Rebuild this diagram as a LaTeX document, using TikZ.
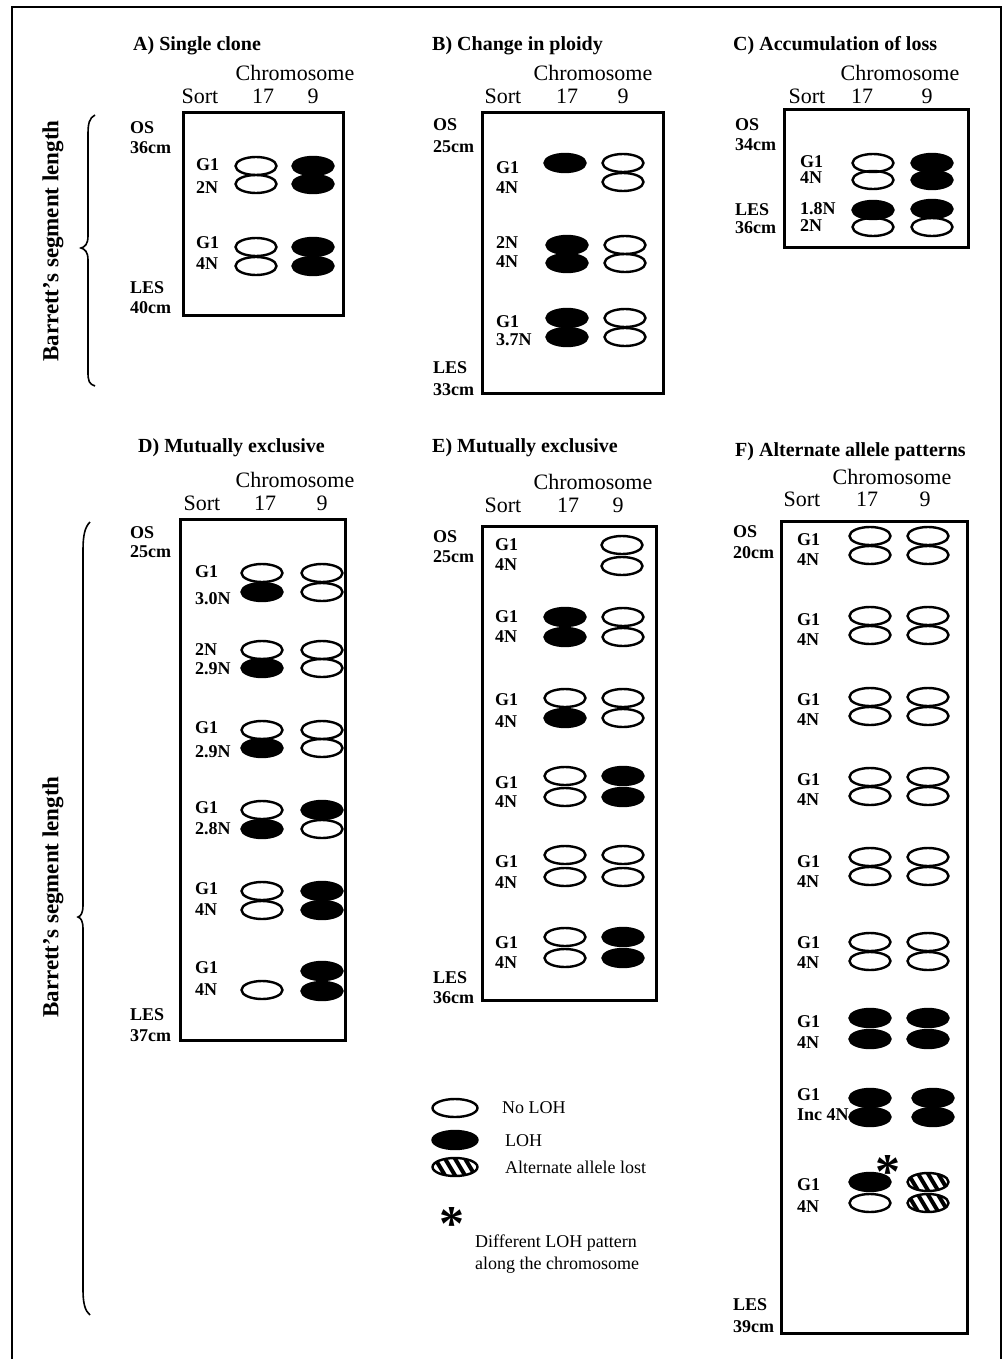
\documentclass[tikz,border=0pt]{standalone}
\usepackage{fontspec}
\setmainfont{Liberation Serif}
\usetikzlibrary{shapes.geometric}
\begin{document}
\begin{tikzpicture}[x=1pt,y=-1pt,
  allele/.style={ellipse, minimum width=41pt, minimum height=18pt, inner sep=0pt, line width=2.4pt},
  nol/.style={allele, draw},
  loh/.style={allele, draw, fill=black},
  alt/.style={allele, draw, fill=white, path picture={
      \foreach \s in {-15,-5,5,15}
        \draw[line width=4pt] ([xshift=\s pt]path picture bounding box.center) ++(-6pt,10pt) -- ++(12pt,-20pt);}},
  ttl/.style={font=\bfseries\fontsize{20}{22}\selectfont, anchor=west, inner sep=0pt},
  hdr/.style={font=\fontsize{22}{24}\selectfont, inner sep=0pt},
  lbl/.style={font=\bfseries\fontsize{18}{20}\selectfont, anchor=west, inner sep=0pt},
  leg/.style={font=\fontsize{18}{20}\selectfont, anchor=west, inner sep=0pt},
  bracelbl/.style={font=\bfseries\fontsize{23}{25}\selectfont, rotate=90, inner sep=0pt},
  panel/.style={draw, line width=3pt},
  bracepath/.style={line width=1.6pt},
  star/.style={font=\bfseries\fontsize{50}{50}\selectfont, inner sep=0pt, anchor=base}
]
\useasboundingbox (0,0) rectangle (1006,1359);
\draw[line width=2.6pt] (12,1365) -- (12,7) -- (1001,7) -- (1001,1365);

% ---------- braces ----------
\draw[bracepath] (95,115) .. controls (89,118) and (88,124) .. (88,135) -- (88,236)
  .. controls (88,244) and (85,247) .. (81,248) .. controls (85,249) and (88,252) .. (88,260)
  -- (88,372) .. controls (88,381) and (89,384) .. (95,386);
\node[bracelbl] (Abr) at (53,241) {Barrett’s segment length};
\draw[bracepath] (90,522) .. controls (85,527) and (83,535) .. (83,550) -- (83,905)
  .. controls (83,913) and (81,916) .. (78,917) .. controls (81,918) and (83,921) .. (83,929)
  -- (83,1290) .. controls (83,1303) and (85,1311) .. (90,1315);
\node[bracelbl] (Dbr) at (53,897) {Barrett’s segment length};

% ---------- Panel A ----------
\node[ttl] (At) at (133,46) {A) Single clone};
\node[hdr] (Ac) at (295,73) {Chromosome};
\node[hdr] (As) at (200,96) {Sort};
\node[hdr] (A17) at (263,96) {17};
\node[hdr] (A9) at (313,96) {9};
\draw[panel] (183,113) rectangle (343,315);
\node[lbl] (Aos) at (130,128) {OS};
\node[lbl] (Aosc) at (130,148) {36cm};
\node[lbl] (Ales) at (130,288) {LES};
\node[lbl] (Alesc) at (130,308) {40cm};
\node[lbl] (Al1) at (196,165) {G1};
\node[lbl] (Al2) at (196,188) {2N};
\node[lbl] (Al3) at (196,243) {G1};
\node[lbl] (Al4) at (196,264) {4N};
\node[nol] (A1a) at (256,166) {}; \node[nol] (A1b) at (256,184) {};
\node[loh] (A1c) at (313,166) {}; \node[loh] (A1d) at (313,184) {};
\node[nol] (A2a) at (256,247) {}; \node[nol] (A2b) at (256,266) {};
\node[loh] (A2c) at (313,247) {}; \node[loh] (A2d) at (313,266) {};

% ---------- Panel B ----------
\node[ttl] (Bt) at (432,46) {B) Change in ploidy};
\node[hdr] (Bc) at (593,73) {Chromosome};
\node[hdr] (Bs) at (503,96) {Sort};
\node[hdr] (B17) at (567,96) {17};
\node[hdr] (B9) at (623,96) {9};
\draw[panel] (482,113) rectangle (663,393);
\node[lbl] (Bos) at (433,125) {OS};
\node[lbl] (Bosc) at (433,147) {25cm};
\node[lbl] (Bles) at (433,368) {LES};
\node[lbl] (Blesc) at (433,390) {33cm};
\node[lbl] (Bl1) at (496,168) {G1};
\node[lbl] (Bl2) at (496,188) {4N};
\node[lbl] (Bl3) at (496,243) {2N};
\node[lbl] (Bl4) at (496,262) {4N};
\node[lbl] (Bl5) at (496,322) {G1};
\node[lbl] (Bl6) at (496,340) {3.7N};
\node[loh] (B1a) at (565,163) {};
\node[nol] (B1c) at (623,163) {}; \node[nol] (B1d) at (623,182) {};
\node[loh] (B2a) at (567,245) {}; \node[loh] (B2b) at (567,263) {};
\node[nol] (B2c) at (625,245) {}; \node[nol] (B2d) at (625,263) {};
\node[loh] (B3a) at (567,318) {}; \node[loh] (B3b) at (567,337) {};
\node[nol] (B3c) at (625,318) {}; \node[nol] (B3d) at (625,337) {};

% ---------- Panel C ----------
\node[ttl] (Ct) at (733,46) {C) Accumulation of loss};
\node[hdr] (Cc) at (900,73) {Chromosome};
\node[hdr] (Cs) at (807,96) {Sort};
\node[hdr] (C17) at (862,96) {17};
\node[hdr] (C9) at (927,96) {9};
\draw[panel] (784,110) rectangle (968,247);
\node[lbl] (Cos) at (735,125) {OS};
\node[lbl] (Cosc) at (735,145) {34cm};
\node[lbl] (Cles) at (735,210) {LES};
\node[lbl] (Clesc) at (735,228) {36cm};
\node[lbl] (Cl1) at (800,162) {G1};
\node[lbl] (Cl2) at (800,178) {4N};
\node[lbl] (Cl3) at (800,209) {1.8N};
\node[lbl] (Cl4) at (800,226) {2N};
\node[nol] (C1a) at (873,163) {}; \node[nol] (C1b) at (873,180) {};
\node[loh] (C1c) at (932,163) {}; \node[loh] (C1d) at (932,180) {};
\node[loh] (C2a) at (873,210) {}; \node[nol] (C2b) at (873,227) {};
\node[loh] (C2c) at (932,209) {}; \node[nol] (C2d) at (932,227) {};

% ---------- Panel D ----------
\node[ttl] (Dt) at (138,448) {D) Mutually exclusive};
\node[hdr] (Dc) at (295,480) {Chromosome};
\node[hdr] (Ds) at (202,503) {Sort};
\node[hdr] (D17) at (265,503) {17};
\node[hdr] (D9) at (322,503) {9};
\draw[panel] (180,519) rectangle (345,1040);
\node[lbl] (Dos) at (130,533) {OS};
\node[lbl] (Dosc) at (130,552) {25cm};
\node[lbl] (Dles) at (130,1015) {LES};
\node[lbl] (Dlesc) at (130,1036) {37cm};
\node[lbl] (Dl1) at (195,572) {G1};   \node[lbl] (Dl2) at (195,599) {3.0N};
\node[lbl] (Dl3) at (195,650) {2N};   \node[lbl] (Dl4) at (195,669) {2.9N};
\node[lbl] (Dl5) at (195,728) {G1};   \node[lbl] (Dl6) at (195,752) {2.9N};
\node[lbl] (Dl7) at (195,808) {G1};   \node[lbl] (Dl8) at (195,829) {2.8N};
\node[lbl] (Dl9) at (195,889) {G1};   \node[lbl] (Dl10) at (195,910) {4N};
\node[lbl] (Dl11) at (195,968) {G1};  \node[lbl] (Dl12) at (195,990) {4N};
\node[nol] (D1a) at (262,573) {}; \node[loh] (D1b) at (262,592) {};
\node[nol] (D1c) at (322,573) {}; \node[nol] (D1d) at (322,592) {};
\node[nol] (D2a) at (262,650) {}; \node[loh] (D2b) at (262,668) {};
\node[nol] (D2c) at (322,650) {}; \node[nol] (D2d) at (322,668) {};
\node[nol] (D3a) at (262,730) {}; \node[loh] (D3b) at (262,748) {};
\node[nol] (D3c) at (322,730) {}; \node[nol] (D3d) at (322,748) {};
\node[nol] (D4a) at (262,810) {}; \node[loh] (D4b) at (262,829) {};
\node[loh] (D4c) at (322,810) {}; \node[nol] (D4d) at (322,829) {};
\node[nol] (D5a) at (262,891) {}; \node[nol] (D5b) at (262,910) {};
\node[loh] (D5c) at (322,891) {}; \node[loh] (D5d) at (322,910) {};
\node[nol] (D6b) at (262,990) {};
\node[loh] (D6c) at (322,971) {}; \node[loh] (D6d) at (322,991) {};

% ---------- Panel E ----------
\node[ttl] (Et) at (432,448) {E) Mutually exclusive};
\node[hdr] (Ec) at (593,482) {Chromosome};
\node[hdr] (Es) at (503,505) {Sort};
\node[hdr] (E17) at (568,505) {17};
\node[hdr] (E9) at (618,505) {9};
\draw[panel] (482,526) rectangle (656,1000);
\node[lbl] (Eos) at (433,537) {OS};
\node[lbl] (Eosc) at (433,557) {25cm};
\node[lbl] (Eles) at (433,978) {LES};
\node[lbl] (Elesc) at (433,998) {36cm};
\node[lbl] (El1) at (495,545) {G1};   \node[lbl] (El2) at (495,565) {4N};
\node[lbl] (El3) at (495,617) {G1};   \node[lbl] (El4) at (495,637) {4N};
\node[lbl] (El5) at (495,700) {G1};   \node[lbl] (El6) at (495,722) {4N};
\node[lbl] (El7) at (495,783) {G1};   \node[lbl] (El8) at (495,802) {4N};
\node[lbl] (El9) at (495,862) {G1};   \node[lbl] (El10) at (495,883) {4N};
\node[lbl] (El11) at (495,943) {G1};  \node[lbl] (El12) at (495,963) {4N};
\node[nol] (E1c) at (622,545) {}; \node[nol] (E1d) at (622,566) {};
\node[loh] (E2a) at (565,617) {}; \node[loh] (E2b) at (565,637) {};
\node[nol] (E2c) at (623,617) {}; \node[nol] (E2d) at (623,637) {};
\node[nol] (E3a) at (565,698) {}; \node[loh] (E3b) at (565,718) {};
\node[nol] (E3c) at (623,698) {}; \node[nol] (E3d) at (623,718) {};
\node[nol] (E4a) at (565,776) {}; \node[nol] (E4b) at (565,797) {};
\node[loh] (E4c) at (623,776) {}; \node[loh] (E4d) at (623,797) {};
\node[nol] (E5a) at (565,855) {}; \node[nol] (E5b) at (565,877) {};
\node[nol] (E5c) at (623,855) {}; \node[nol] (E5d) at (623,877) {};
\node[nol] (E6a) at (565,937) {}; \node[nol] (E6b) at (565,958) {};
\node[loh] (E6c) at (623,937) {}; \node[loh] (E6d) at (623,958) {};

% ---------- Legend ----------
\node[nol, minimum width=45pt] (Lg1) at (455,1108) {};
\node[leg] (Lt1) at (502,1108) {No LOH};
\node[loh, minimum width=45pt] (Lg2) at (455,1140) {};
\node[leg] (Lt2) at (505,1141) {LOH};
\node[alt, minimum width=45pt] (Lg3) at (455,1167) {};
\node[leg] (Lt3) at (505,1167) {Alternate allele lost};
\node[star] (Lst) at (452,1240) {*};
\node[leg] (Lt4) at (475,1243) {Different LOH pattern};
\node[leg] (Lt5) at (475,1265) {along the chromosome};

% ---------- Panel F ----------
\node[ttl] (Ft) at (735,452) {F) Alternate allele patterns};
\node[hdr] (Fc) at (892,477) {Chromosome};
\node[hdr] (Fs) at (802,499) {Sort};
\node[hdr] (F17) at (867,499) {17};
\node[hdr] (F9) at (925,499) {9};
\draw[panel] (781,521) rectangle (967,1333);
\node[lbl] (Fos) at (733,532) {OS};
\node[lbl] (Fosc) at (733,553) {20cm};
\node[lbl] (Fles) at (733,1305) {LES};
\node[lbl] (Flesc) at (733,1327) {39cm};
\foreach \ly/\ey [count=\i] in {540/536, 620/616, 700/697, 780/777, 862/857, 943/942} {
  \node[lbl] (Fl\i a) at (797,\ly) {G1};
  \node[lbl] (Fl\i b) at (797,\ly+20) {4N};
  \node[nol] (F\i a) at (870,\ey) {}; \node[nol] (F\i b) at (870,\ey+19) {};
  \node[nol] (F\i c) at (928,\ey) {}; \node[nol] (F\i d) at (928,\ey+19) {};
}
\node[lbl] (Fl7a) at (797,1022) {G1};  \node[lbl] (Fl7b) at (797,1043) {4N};
\node[loh] (F7a) at (870,1018) {}; \node[loh] (F7b) at (870,1039) {};
\node[loh] (F7c) at (928,1018) {}; \node[loh] (F7d) at (928,1039) {};
\node[lbl] (Fl8a) at (797,1095) {G1};  \node[lbl] (Fl8b) at (797,1115) {Inc 4N};
\node[loh] (F8a) at (870,1098) {}; \node[loh] (F8b) at (870,1117) {};
\node[loh] (F8c) at (933,1098) {}; \node[loh] (F8d) at (933,1117) {};
\node[lbl] (Fl9a) at (797,1185) {G1};  \node[lbl] (Fl9b) at (797,1207) {4N};
\node[loh] (F9a) at (870,1182) {}; \node[nol] (F9b) at (870,1203) {};
\node[alt] (F9c) at (928,1182) {}; \node[alt] (F9d) at (928,1203) {};
\node[star] (Fst) at (888,1188) {*};
\end{tikzpicture}
\end{document}
